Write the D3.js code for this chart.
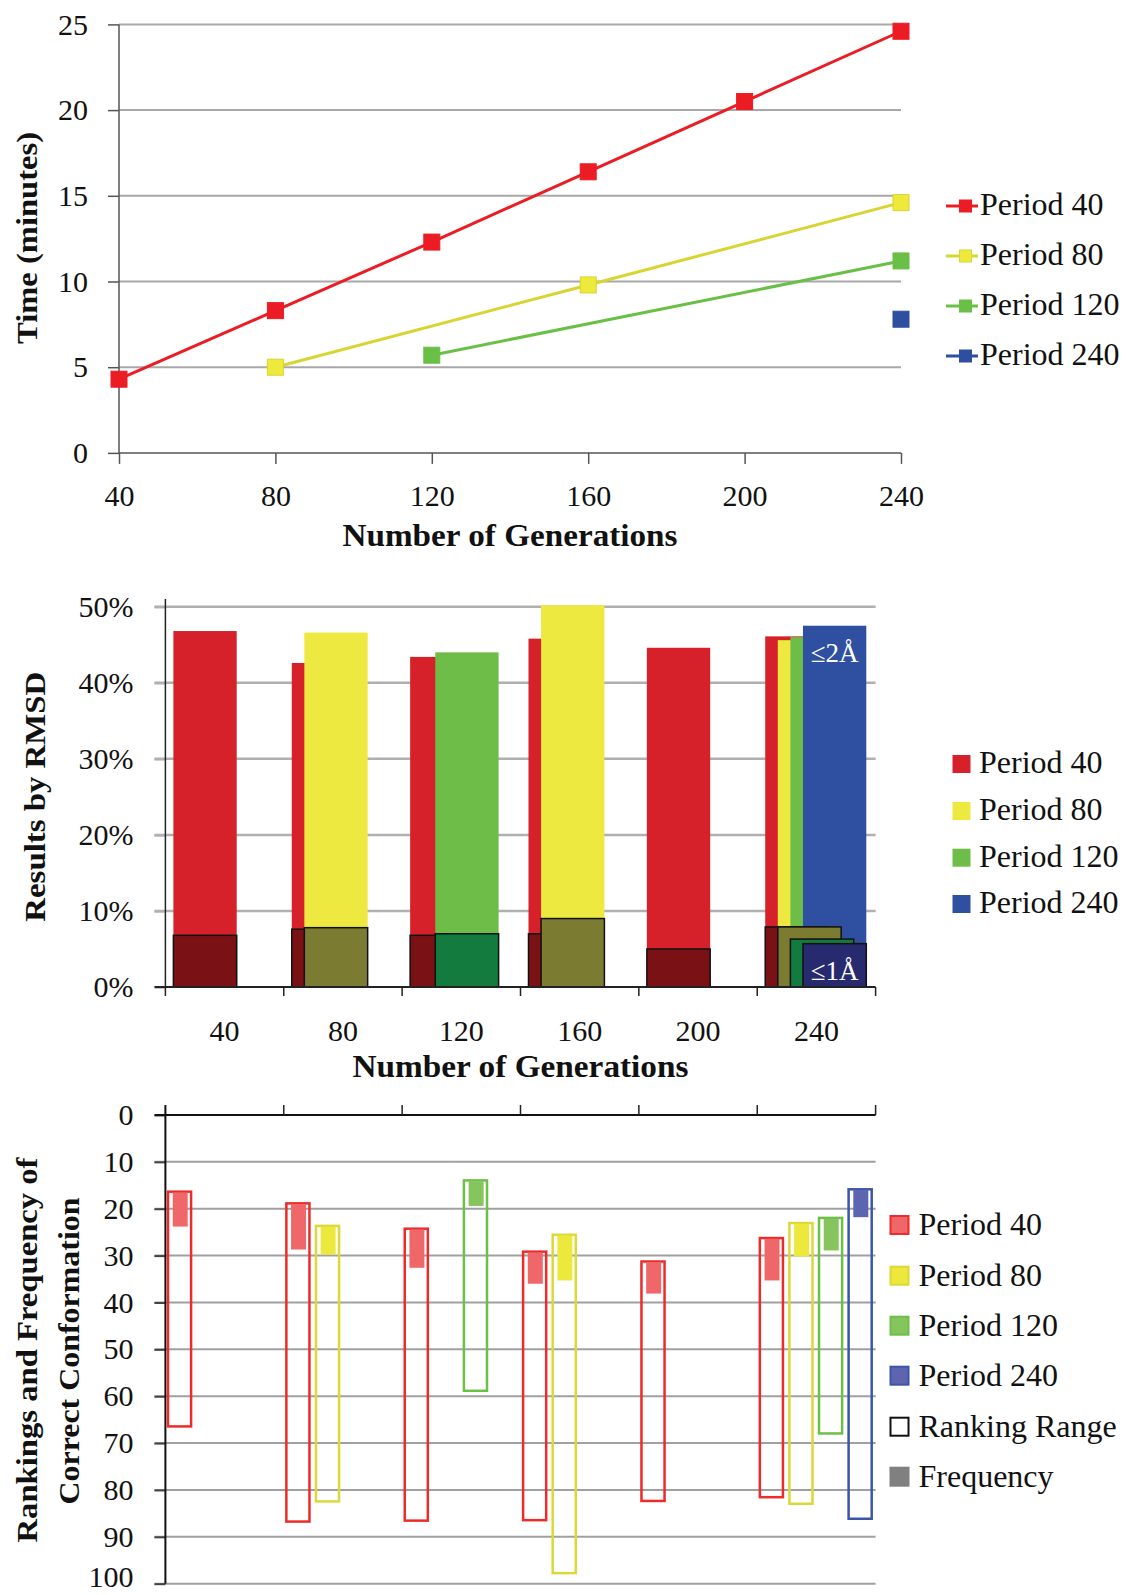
<!DOCTYPE html>
<html><head><meta charset="utf-8">
<script src="https://cdnjs.cloudflare.com/ajax/libs/d3/7.8.5/d3.min.js"></script>
<style>
html,body{margin:0;padding:0;background:#fff;}
svg text{font-family:"Liberation Serif","Times New Roman",serif;fill:#111;}
</style></head>
<body><svg id="c" width="1127" height="1595"></svg>
<script>
// ---------- data ----------
const generations = [40, 80, 120, 160, 200, 240];
const periods = ["Period 40", "Period 80", "Period 120", "Period 240"];
// Chart 1: time (minutes)
const time40  = [4.3, 8.3, 12.3, 16.4, 20.5, 24.6];
const time80  = [null, 5.0, null, 9.8, null, 14.6];
const time120 = [null, null, 5.7, null, null, 11.2];
const time240 = [null, null, null, null, null, 7.8];
const timeTicks = [0, 5, 10, 15, 20, 25];
// Chart 2: results by RMSD (%)
const rmsd2_40  = [46.8, 42.6, 43.4, 45.8, 44.6, 46.1];
const rmsd2_80  = [null, 46.6, null, 50.2, null, 45.6];
const rmsd2_120 = [null, null, 44.0, null, null, 46.0];
const rmsd2_240 = [null, null, null, null, null, 47.5];
const rmsd1_40  = [6.8, 7.6, 6.8, 7.0, 5.0, 7.9];
const rmsd1_80  = [null, 7.8, null, 9.0, null, 7.9];
const rmsd1_120 = [null, null, 7.0, null, null, 6.3];
const rmsd1_240 = [null, null, null, null, null, 5.7];
const pctTicks = [0, 10, 20, 30, 40, 50];
// Chart 3: ranking range (best, worst) and frequency length
const rankBest40  = [16.1, 18.6, 24.0, 28.9, 31.0, 26.0];
const rankBest80  = [null, 23.4, null, 25.3, null, 22.8];
const rankBest120 = [null, null, 13.7, null, null, 21.7];
const rankBest240 = [null, null, null, null, null, 15.6];
const rankWorst40  = [66.7, 87.0, 86.8, 86.7, 82.6, 81.8];
const rankWorst80  = [null, 82.7, null, 98.0, null, 83.2];
const rankWorst120 = [null, null, 59.1, null, null, 68.2];
const rankWorst240 = [null, null, null, null, null, 86.4];
const freq40  = [7.7, 10.1, 8.6, 7.1, 7.1, 9.3];
const freq80  = [null, 6.4, null, 10.0, null, 7.4];
const freq120 = [null, null, 5.7, null, null, 7.2];
const freq240 = [null, null, null, null, null, 6.2];
const rankTicks = [0, 10, 20, 30, 40, 50, 60, 70, 80, 90, 100];

// ---------- styles ----------
const lineCol   = ["#ec1c24", "#d8d432", "#6abf46", "#2e4fa0"];
const markCol   = ["#ec1c24", "#eeea3c", "#6abf46", "#2e4fa0"];
const barCol    = ["#d6212a", "#eee940", "#6dbd48", "#2f50a1"];
const darkCol   = ["#7a1115", "#7b7b31", "#127b3d", "#272a6f"];
const rangeCol  = ["#ee2b2b", "#dcd838", "#6dbf48", "#3b56a8"];
const freqCol   = ["#f0676a", "#ece93c", "#86c55e", "#5d64b0"];
const TICKFONT = 30, LEGFONT = 32;

const svg = d3.select("#c");

function styleAxis(g, col) {
  g.select(".domain").remove();
  g.selectAll(".tick line").attr("stroke", col || "#333").attr("stroke-width", 1.5);
  g.selectAll(".tick text").attr("font-size", TICKFONT)
    .attr("font-family", "Liberation Serif").attr("fill", "#111");
}
function yTitle(txt, x, y, len) {
  svg.append("text").attr("transform", `translate(${x},${y}) rotate(-90)`)
    .attr("text-anchor", "middle").attr("font-family", "DejaVu Serif")
    .attr("font-weight", "bold").attr("font-size", 29)
    .attr("textLength", len).attr("lengthAdjust", "spacingAndGlyphs").text(txt);
}
function xTitle(txt, cx, y, len) {
  svg.append("text").attr("x", cx).attr("y", y).attr("text-anchor", "middle")
    .attr("font-weight", "bold").attr("font-size", 31)
    .attr("textLength", len).attr("lengthAdjust", "spacingAndGlyphs").text(txt);
}

// ================= Chart 1 =================
{
  const x = d3.scaleLinear().domain([40, 240]).range([119, 901]);
  const y = d3.scaleLinear().domain([0, 25]).range([452.9, 24.4]);
  const g = svg.append("g");
  g.selectAll("line.grid").data(timeTicks.filter(t => t > 0)).join("line")
    .attr("x1", x(40)).attr("x2", x(240)).attr("y1", d => y(d)).attr("y2", d => y(d))
    .attr("stroke", "#a8a8a8").attr("stroke-width", 2);
  g.append("line").attr("x1", x(40)).attr("x2", x(40)).attr("y1", y(25)).attr("y2", y(0))
    .attr("stroke", "#555").attr("stroke-width", 1.5);
  g.append("line").attr("x1", x(40)).attr("x2", x(240)).attr("y1", y(0)).attr("y2", y(0))
    .attr("stroke", "#555").attr("stroke-width", 1.5);
  const ya = g.append("g").attr("transform", `translate(${x(40)},0)`)
    .call(d3.axisLeft(y).tickValues(timeTicks).tickSize(11).tickSizeOuter(0).tickPadding(20));
  styleAxis(ya, "#555");
  const xa = g.append("g").attr("transform", `translate(0,${y(0)})`)
    .call(d3.axisBottom(x).tickValues(generations).tickSize(11).tickSizeOuter(0).tickPadding(21));
  styleAxis(xa, "#555");
  const series = [time40, time80, time120, time240];
  series.forEach((s, i) => {
    const pts = generations.map((gn, j) => ({ g: gn, v: s[j] })).filter(d => d.v != null);
    g.append("path").datum(pts)
      .attr("d", d3.line().x(d => x(d.g)).y(d => y(d.v)))
      .attr("fill", "none").attr("stroke", lineCol[i]).attr("stroke-width", 3);
    g.selectAll(null).data(pts).join("rect")
      .attr("x", d => x(d.g) - 8).attr("y", d => y(d.v) - 8).attr("width", 16).attr("height", 16)
      .attr("fill", markCol[i]).attr("stroke", i === 1 ? "#d8d432" : markCol[i]).attr("stroke-width", 1);
  });
  const ly = [206, 256, 306, 356];
  periods.forEach((p, i) => {
    g.append("line").attr("x1", 946).attr("x2", 978).attr("y1", ly[i]).attr("y2", ly[i])
      .attr("stroke", lineCol[i]).attr("stroke-width", 3);
    g.append("rect").attr("x", 959.5).attr("y", ly[i] - 6).attr("width", 12).attr("height", 12)
      .attr("fill", markCol[i]).attr("stroke", i === 1 ? "#d8d432" : markCol[i]);
    g.append("text").attr("x", 980).attr("y", ly[i] + 8.5).attr("font-size", LEGFONT).text(p);
  });
  yTitle("Time (minutes)", 36.5, 238, 212);
  xTitle("Number of Generations", 510, 546, 335);
}

// ================= Chart 2 =================
{
  const x = d3.scaleBand().domain(generations).range([165.4, 875.6]).padding(0);
  const y = d3.scaleLinear().domain([0, 50]).range([987, 606.7]);
  const bw = x.bandwidth();
  const off = bw * 0.0675, step = bw * 0.1063, w = bw * 0.535;
  const g = svg.append("g");
  g.selectAll("line.grid").data(pctTicks.filter(t => t > 0)).join("line")
    .attr("x1", 154.6).attr("x2", 875.6).attr("y1", d => y(d)).attr("y2", d => y(d))
    .attr("stroke", "#b0b0b0").attr("stroke-width", 2.5);
  const ya = g.append("g").attr("transform", `translate(${x.range()[0]},0)`)
    .call(d3.axisLeft(y).tickValues(pctTicks).tickFormat(d => d + "%").tickSize(11).tickSizeOuter(0).tickPadding(21));
  styleAxis(ya, "#b0b0b0");
  ya.selectAll(".tick line").attr("stroke-width", 2.5);
  const top2 = [rmsd2_40, rmsd2_80, rmsd2_120, rmsd2_240];
  const low1 = [rmsd1_40, rmsd1_80, rmsd1_120, rmsd1_240];
  top2.forEach((s, i) => {
    const pts = generations.map((gn, j) => ({ g: gn, v: s[j] })).filter(d => d.v != null);
    g.selectAll(null).data(pts).join("rect")
      .attr("x", d => x(d.g) + off + i * step).attr("width", w)
      .attr("y", d => y(d.v)).attr("height", d => y(0) - y(d.v))
      .attr("fill", barCol[i]);
  });
  low1.forEach((s, i) => {
    const pts = generations.map((gn, j) => ({ g: gn, v: s[j] })).filter(d => d.v != null);
    g.selectAll(null).data(pts).join("rect")
      .attr("x", d => x(d.g) + off + i * step).attr("width", w)
      .attr("y", d => y(d.v)).attr("height", d => y(0) - y(d.v))
      .attr("fill", darkCol[i]).attr("stroke", "#111").attr("stroke-width", 1.5);
  });
  g.append("line").attr("x1", x.range()[0]).attr("x2", x.range()[0]).attr("y1", 599).attr("y2", y(0))
    .attr("stroke", "#222").attr("stroke-width", 1.5);
  g.append("line").attr("x1", 154.6).attr("x2", x.range()[1]).attr("y1", y(0)).attr("y2", y(0))
    .attr("stroke", "#222").attr("stroke-width", 2);
  const bounds = generations.map(d => x(d)).concat([x.range()[1]]);
  g.selectAll("line.bt").data(bounds).join("line")
    .attr("x1", d => d).attr("x2", d => d).attr("y1", y(0)).attr("y2", y(0) + 9)
    .attr("stroke", "#222").attr("stroke-width", 1.5);
  const xa = g.append("g").attr("transform", `translate(0,${y(0)})`)
    .call(d3.axisBottom(x).tickSize(0).tickPadding(33));
  styleAxis(xa);
  const bx = x(240) + off + 3 * step + w / 2;
  g.append("text").attr("x", bx).attr("y", 661.5).attr("text-anchor", "middle")
    .attr("font-size", 27).style("fill", "#fff").text("≤2Å");
  g.append("text").attr("x", bx).attr("y", 980).attr("text-anchor", "middle")
    .attr("font-size", 27).style("fill", "#fff").text("≤1Å");
  const ly = [764, 811, 857.7, 904];
  periods.forEach((p, i) => {
    g.append("rect").attr("x", 952.5).attr("y", ly[i] - 9).attr("width", 18).attr("height", 18)
      .attr("fill", barCol[i]);
    g.append("text").attr("x", 979).attr("y", ly[i] + 9.3).attr("font-size", LEGFONT).text(p);
  });
  yTitle("Results by RMSD", 44.6, 796.7, 250);
  xTitle("Number of Generations", 520.5, 1077, 336);
}

// ================= Chart 3 =================
{
  const x = d3.scaleBand().domain(generations).range([165.4, 875.6]).padding(0);
  const y = d3.scaleLinear().domain([0, 100]).range([1115, 1583.7]);
  const slot = x.bandwidth() / 4;
  const g = svg.append("g");
  g.selectAll("line.grid").data(rankTicks.filter(t => t > 0)).join("line")
    .attr("x1", 154.6).attr("x2", 875.6).attr("y1", d => y(d)).attr("y2", d => y(d))
    .attr("stroke", "#a0a0a0").attr("stroke-width", 2);
  const ya = g.append("g").attr("transform", `translate(${x.range()[0]},0)`)
    .call(d3.axisLeft(y).tickValues(rankTicks).tickSize(11).tickSizeOuter(0).tickPadding(21));
  styleAxis(ya, "#444");
  ya.selectAll(".tick line").attr("stroke-width", 2);
  ya.selectAll(".tick text").filter(d => d === 100).attr("dy", "0.08em");
  g.append("line").attr("x1", x.range()[0]).attr("x2", x.range()[0]).attr("y1", 1105).attr("y2", y(100))
    .attr("stroke", "#111").attr("stroke-width", 2);
  g.append("line").attr("x1", 154.6).attr("x2", x.range()[1]).attr("y1", y(0)).attr("y2", y(0))
    .attr("stroke", "#111").attr("stroke-width", 2);
  const bounds = generations.map(d => x(d)).concat([x.range()[1]]);
  g.selectAll("line.bt").data(bounds.slice(1)).join("line")
    .attr("x1", d => d).attr("x2", d => d).attr("y1", y(0) - 10).attr("y2", y(0))
    .attr("stroke", "#222").attr("stroke-width", 1.5);
  const best = [rankBest40, rankBest80, rankBest120, rankBest240];
  const worst = [rankWorst40, rankWorst80, rankWorst120, rankWorst240];
  const freq = [freq40, freq80, freq120, freq240];
  best.forEach((s, i) => {
    const pts = generations.map((gn, j) => ({ g: gn, b: s[j], w: worst[i][j], f: freq[i][j] }))
      .filter(d => d.b != null);
    g.selectAll(null).data(pts).join("rect")
      .attr("x", d => x(d.g) + i * slot + 2.6).attr("width", slot - 6.5)
      .attr("y", d => y(d.b) + 1.2).attr("height", d => y(d.w) - y(d.b) - 2.4)
      .attr("fill", "none").attr("stroke", rangeCol[i]).attr("stroke-width", 2.5);
    g.selectAll(null).data(pts).join("rect")
      .attr("x", d => x(d.g) + i * slot + slot / 2 - 7.5).attr("width", 15)
      .attr("y", d => y(d.b) + 2).attr("height", d => y(d.b + d.f) - y(d.b) - 2)
      .attr("fill", freqCol[i]);
  });
  const ly = [1225, 1275.7, 1325.7, 1375.7, 1426.7, 1476.7];
  const legItems = periods.concat(["Ranking Range", "Frequency"]);
  legItems.forEach((p, i) => {
    const fill = i < 4 ? freqCol[i] : (i === 4 ? "#fff" : "#808080");
    const stroke = i < 4 ? rangeCol[i] : (i === 4 ? "#111" : "#808080");
    g.append("rect").attr("x", 890.5).attr("y", ly[i] - 9).attr("width", 18).attr("height", 18)
      .attr("fill", fill).attr("stroke", stroke).attr("stroke-width", 2);
    g.append("text").attr("x", 918.5).attr("y", ly[i] + 10).attr("font-size", LEGFONT).text(p);
  });
  yTitle("Rankings and Frequency of", 37.4, 1350, 385);
  yTitle("Correct Conformation", 79, 1351, 307);
}
</script></body></html>
